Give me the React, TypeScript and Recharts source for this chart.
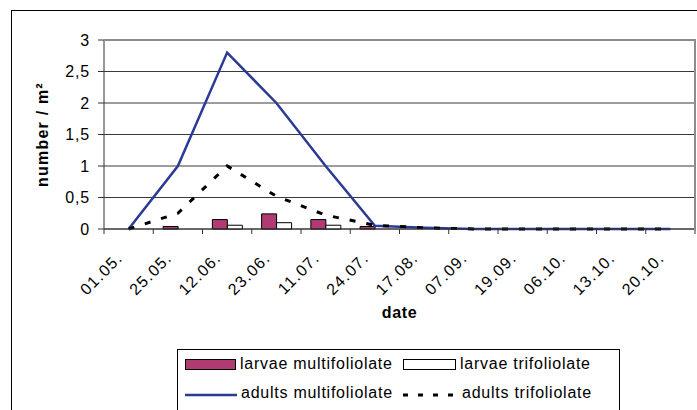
import React from 'react'
import {
  ComposedChart,
  Bar,
  Line,
  XAxis,
  YAxis,
  CartesianGrid,
} from 'recharts'

const dates = ['01.05.', '25.05.', '12.06.', '23.06.', '11.07.', '24.07.', '17.08.', '07.09.', '19.09.', '06.10.', '13.10.', '20.10.']
const larvaeMulti = [0, 0.04, 0.15, 0.24, 0.15, 0.04, 0, 0, 0, 0, 0, 0]
const larvaeTri = [0, 0, 0.06, 0.1, 0.06, 0, 0, 0, 0, 0, 0, 0]
const adultsMulti = [0, 1, 2.8, 2, 1, 0.05, 0.02, 0, 0, 0, 0, 0]
const adultsTri = [0, 0.25, 1, 0.52, 0.22, 0.06, 0.02, 0, 0, 0, 0, 0]
const yTicks = [0, 0.5, 1, 1.5, 2, 2.5, 3]

const seriesNames = {
  larvaeMulti: 'larvae multifoliolate',
  larvaeTri: 'larvae trifoliolate',
  adultsMulti: 'adults multifoliolate',
  adultsTri: 'adults trifoliolate',
}

const MAGENTA = '#b03a72'
const NAVY = '#2b3a95'
const FONT = '"Liberation Sans", Arial, sans-serif'

const data = dates.map((date, i) => ({
  date,
  larvaeMulti: larvaeMulti[i],
  larvaeTri: larvaeTri[i],
  adultsMulti: adultsMulti[i],
  adultsTri: adultsTri[i],
}))

// plot is 591px wide -> half a category
const HALF_BAND = 591 / dates.length / 2

const DateTick = (props: any) => {
  const { x, y, payload, index } = props
  const tx = x - 5
  const ty = y + 30
  return (
    <g>
      <line x1={x - HALF_BAND} x2={x - HALF_BAND} y1={y} y2={y + 5} stroke="#333" />
      {index === dates.length - 1 && (
        <line x1={x + HALF_BAND} x2={x + HALF_BAND} y1={y} y2={y + 5} stroke="#333" />
      )}
      <text
        x={tx}
        y={ty}
        transform={`rotate(-45, ${tx}, ${ty})`}
        textAnchor="end"
        fontSize={16}
        fontFamily={FONT}
        letterSpacing={1.3}
        fill="#000"
      >
        {payload.value}
      </text>
    </g>
  )
}

const Legend = () => (
  <svg
    width={450}
    height={70}
    style={{ position: 'absolute', left: 177, top: 349 }}
    fontFamily={FONT}
    fontSize={16}
    letterSpacing={0.75}
  >
    <rect x={0.5} y={0.5} width={442} height={90} fill="#fff" stroke="#000" />
    <rect x={8.5} y={10.5} width={50} height={10} fill={MAGENTA} stroke="#000" />
    <text x={63} y={20}>{seriesNames.larvaeMulti}</text>
    <rect x={226.5} y={10.5} width={52} height={10} fill="#fff" stroke="#000" />
    <text x={283} y={20}>{seriesNames.larvaeTri}</text>
    <line x1={8} x2={60} y1={46} y2={46} stroke={NAVY} strokeWidth={2.5} />
    <text x={64} y={49}>{seriesNames.adultsMulti}</text>
    <line x1={226} x2={282} y1={46} y2={46} stroke="#000" strokeWidth={3} strokeDasharray="5 10" />
    <text x={285} y={49}>{seriesNames.adultsTri}</text>
  </svg>
)

export default function App() {
  return (
    <div style={{ position: 'relative', width: 697, height: 410, overflow: 'hidden', background: '#fff' }}>
      <style>{'body{margin:0}'}</style>
      <div
        style={{
          position: 'absolute',
          left: 11,
          top: 10,
          width: 800,
          height: 500,
          border: '1.5px solid #000',
        }}
      />
      <div style={{ position: 'absolute', left: 0, top: 0 }}>
        <ComposedChart
          width={697}
          height={410}
          data={data}
          margin={{ top: 40, right: 2, left: 0, bottom: 0 }}
          barCategoryGap="20%"
          barGap={0}
        >
          <CartesianGrid vertical={false} stroke="#3a3a3a" />
          <XAxis
            dataKey="date"
            height={181}
            interval={0}
            tickSize={0}
            tickMargin={0}
            tickLine={false}
            axisLine={{ stroke: '#333' }}
            tick={<DateTick />}
            label={{
              value: 'date',
              position: 'insideBottom',
              offset: 92,
              style: { fontWeight: 'bold', fontSize: 16, fontFamily: FONT, fill: '#000', letterSpacing: 0.6 },
            }}
          />
          <YAxis
            width={104}
            domain={[0, 3]}
            ticks={yTicks}
            interval={0}
            tickSize={6}
            tickMargin={8}
            tickLine={{ stroke: '#333' }}
            axisLine={{ stroke: '#333' }}
            tickFormatter={(v: number) => String(v).replace('.', ',')}
            tick={{ fontSize: 16, fontFamily: FONT, fill: '#000', letterSpacing: 0.8 }}
            label={{
              value: 'number / m²',
              angle: -90,
              position: 'insideLeft',
              offset: 42,
              style: { textAnchor: 'middle', fontWeight: 'bold', fontSize: 16, fontFamily: FONT, fill: '#000', letterSpacing: 1.2 },
            }}
          />
          <Bar dataKey="larvaeMulti" name={seriesNames.larvaeMulti} fill={MAGENTA} stroke="#000" strokeWidth={1} isAnimationActive={false} />
          <Bar dataKey="larvaeTri" name={seriesNames.larvaeTri} fill="#fff" stroke="#000" strokeWidth={1} isAnimationActive={false} />
          <Line
            type="linear"
            dataKey="adultsMulti"
            name={seriesNames.adultsMulti}
            stroke={NAVY}
            strokeWidth={2.5}
            dot={false}
            isAnimationActive={false}
          />
          <Line
            type="linear"
            dataKey="adultsTri"
            name={seriesNames.adultsTri}
            stroke="#000"
            strokeWidth={3}
            strokeDasharray="6 11"
            dot={false}
            isAnimationActive={false}
          />
        </ComposedChart>
      </div>
      <div
        style={{
          position: 'absolute',
          left: 104,
          top: 39,
          width: 590,
          height: 190,
          borderTop: '2px solid #8c8c8c',
          borderRight: '2px solid #8c8c8c',
          pointerEvents: 'none',
        }}
      />
      <Legend />
    </div>
  )
}
